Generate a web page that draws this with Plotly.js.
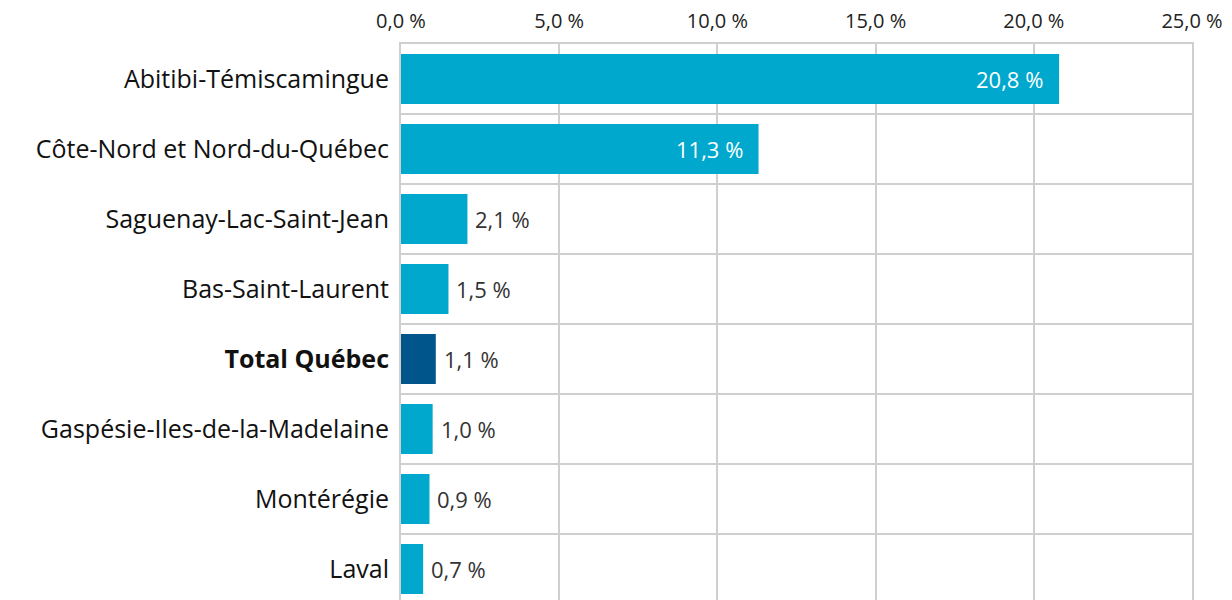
<!DOCTYPE html>
<html>
<head>
<meta charset="utf-8">
<script src="https://cdn.plot.ly/plotly-3.0.1.min.js"></script>
<style>html,body{margin:0;padding:0;overflow:hidden;background:#fff;}#chart{width:1232px;height:610px;}</style>
</head>
<body>
<div id="chart"></div>
<script>
const categories = ["Abitibi-Témiscamingue","Côte-Nord et Nord-du-Québec","Saguenay-Lac-Saint-Jean","Bas-Saint-Laurent","Total Québec","Gaspésie-Iles-de-la-Madelaine","Montérégie","Laval"];
const values = [20.8, 11.3, 2.1, 1.5, 1.1, 1.0, 0.9, 0.7];
const valueLabels = ["20,8 %","11,3 %","2,1 %","1,5 %","1,1 %","1,0 %","0,9 %","0,7 %"];
const tickValsX = [0,5,10,15,20,25];
const tickTextX = ["0,0 %","5,0 %","10,0 %","15,0 %","20,0 %","25,0 %"];
const highlight = "Total Québec";
const insideThreshold = 5;

const FONT = "'Open Sans', sans-serif";
const colors = categories.map(c => c === highlight ? "#00568A" : "#00A8CE");
const ticktextY = categories.map(c => c === highlight ? "<b>" + c + "</b>" : c);

const annotations = categories.map((c, i) => {
  const inside = values[i] > insideThreshold;
  return {
    x: values[i], y: c, xref: "x", yref: "y",
    text: valueLabels[i], showarrow: false,
    xanchor: inside ? "right" : "left",
    xshift: inside ? -14 : 6,
    font: {family: FONT, size: 22, color: inside ? "#ffffff" : "#333333"}
  };
});

Plotly.newPlot("chart", [{
  type: "bar", orientation: "h",
  x: values, y: categories,
  marker: {color: colors},
  hoverinfo: "none"
}], {
  width: 1232, height: 610,
  margin: {l: 401, r: 40, t: 44, b: 6},
  paper_bgcolor: "#fff", plot_bgcolor: "#fff",
  bargap: 0.286,
  showlegend: false,
  font: {family: FONT, color: "#111"},
  xaxis: {
    side: "top", range: [0, 25],
    tickvals: tickValsX, ticktext: tickTextX,
    tickfont: {size: 20, color: "#222"},
    showgrid: true, gridcolor: "#cfcfcf", gridwidth: 2,
    zeroline: false,
    showline: true, linecolor: "#cfcfcf", linewidth: 2, mirror: true,
    ticks: "", ticklabelstandoff: 6
  },
  yaxis: {
    type: "category", range: [7.5, -0.5],
    tickvals: categories, ticktext: ticktextY,
    tickson: "boundaries",
    tickfont: {size: 25, color: "#111"},
    showgrid: true, gridcolor: "#cfcfcf", gridwidth: 2,
    showline: true, linecolor: "#cfcfcf", linewidth: 2, mirror: true,
    ticks: "", ticklabelstandoff: 5
  },
  annotations: annotations
}, {displayModeBar: false, staticPlot: true});
</script>
</body>
</html>
